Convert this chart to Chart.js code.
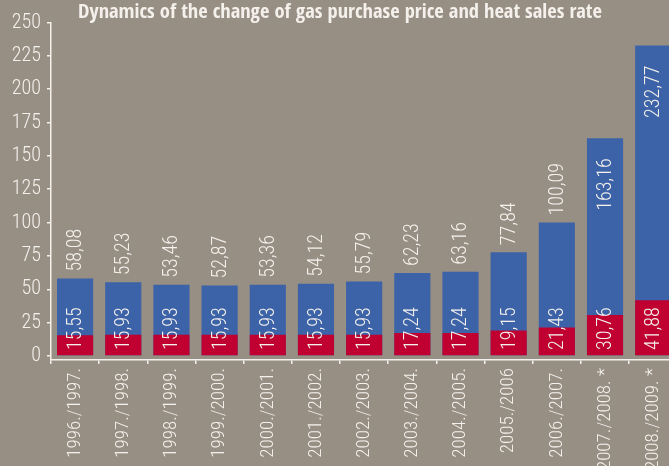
<!DOCTYPE html>
<html>
<head>
<meta charset="utf-8">
<script src="https://cdn.jsdelivr.net/npm/chart.js@4"></script>
<style>
  html, body { margin: 0; padding: 0; background: #978e84; overflow: hidden; }
  #wrap { position: relative; width: 680px; height: 466px; }
</style>
</head>
<body>
<div id="wrap"><canvas id="gasChart"></canvas></div>
<script>
// Data
const seasons = ['1996./1997.', '1997./1998.', '1998./1999.', '1999./2000.', '2000./2001.',
  '2001./2002.', '2002./2003.', '2003./2004.', '2004./2005.', '2005./2006', '2006./2007.',
  '2007./2008. *', '2008./2009. *'];
const gasPrice = [58.08, 55.23, 53.46, 52.87, 53.36, 54.12, 55.79, 62.23, 63.16, 77.84, 100.09, 163.16, 232.77];
const heatRate = [15.55, 15.93, 15.93, 15.93, 15.93, 15.93, 15.93, 17.24, 17.24, 19.15, 21.43, 30.76, 41.88];
const yTicks = [0, 25, 50, 75, 100, 125, 150, 175, 200, 225, 250];

const FONT = "'Roboto Condensed', 'DejaVu Sans Condensed', sans-serif";
const TITLE_FONT = "'Open Sans Condensed', 'Roboto Condensed', sans-serif";
const TXT = '#f4f1ec';
const fmt = v => v.toFixed(2).replace('.', ',');

// draws the rotated value labels on the bars
const valueLabels = {
    id: 'valueLabels',
    afterDatasetsDraw(chart) {
        const ctx = chart.ctx;
        const zero = chart.scales.y.getPixelForValue(0);
        ctx.save();
        ctx.font = '300 20px ' + FONT;
        ctx.fillStyle = TXT;
        ctx.textBaseline = 'middle';
        chart.data.datasets.forEach((ds, di) => {
            chart.getDatasetMeta(di).data.forEach((bar, i) => {
                const v = ds.data[i];
                ctx.save();
                if (ds.isBase) {
                    ctx.translate(bar.x, zero - 6);
                    ctx.textAlign = 'left';
                } else if (v > 150) {
                    ctx.translate(bar.x, bar.y + 20);
                    ctx.textAlign = 'right';
                } else {
                    ctx.translate(bar.x, bar.y - 7);
                    ctx.textAlign = 'left';
                }
                ctx.rotate(-Math.PI / 2);
                ctx.fillText(fmt(v), 0, 1);
                ctx.restore();
            });
        });
        ctx.restore();
    }
};

new Chart(document.getElementById('gasChart'), {
    type: 'bar',
    data: {
        labels: seasons,
        datasets: [
            { label: 'Heat sales rate', data: heatRate, backgroundColor: '#bf0030', isBase: true },
            { label: 'Gas purchase price', data: gasPrice, backgroundColor: '#3c62a8' }
        ]
    },
    options: {
        responsive: true, maintainAspectRatio: false, animation: false,
        layout: { padding: 0 },
        datasets: { bar: { grouped: false, categoryPercentage: 1, barPercentage: 0.75 } },
        plugins: {
            legend: { display: false },
            tooltip: { enabled: false },
            title: {
                display: true,
                text: 'Dynamics of the change of gas purchase price and heat sales rate',
                color: TXT,
                font: { family: TITLE_FONT, size: 20.5, weight: 'bold', lineHeight: 1 },
                padding: { top: 2, bottom: 0 }
            }
        },
        scales: {
            x: {
                grid: { display: true, drawOnChartArea: false, offset: true, color: TXT, lineWidth: 1.5, tickLength: 4 },
                border: { display: true, color: TXT, width: 1.5 },
                ticks: { color: TXT, font: { family: FONT, size: 19, weight: 300 }, minRotation: 90, maxRotation: 90, padding: 4, autoSkip: false },
                afterFit: s => { s.height = 106; }
            },
            y: {
                min: -3, max: 250,
                afterBuildTicks: s => { s.ticks = yTicks.map(v => ({ value: v })); },
                grid: { display: true, drawOnChartArea: false, color: TXT, lineWidth: 1.5, tickLength: 4 },
                border: { display: true, color: TXT, width: 1.5 },
                ticks: { color: TXT, font: { family: FONT, size: 20, weight: 300 }, padding: 6 },
                afterFit: s => { s.width = 51; }
            }
        }
    },
    plugins: [valueLabels]
});
</script>
</body>
</html>
